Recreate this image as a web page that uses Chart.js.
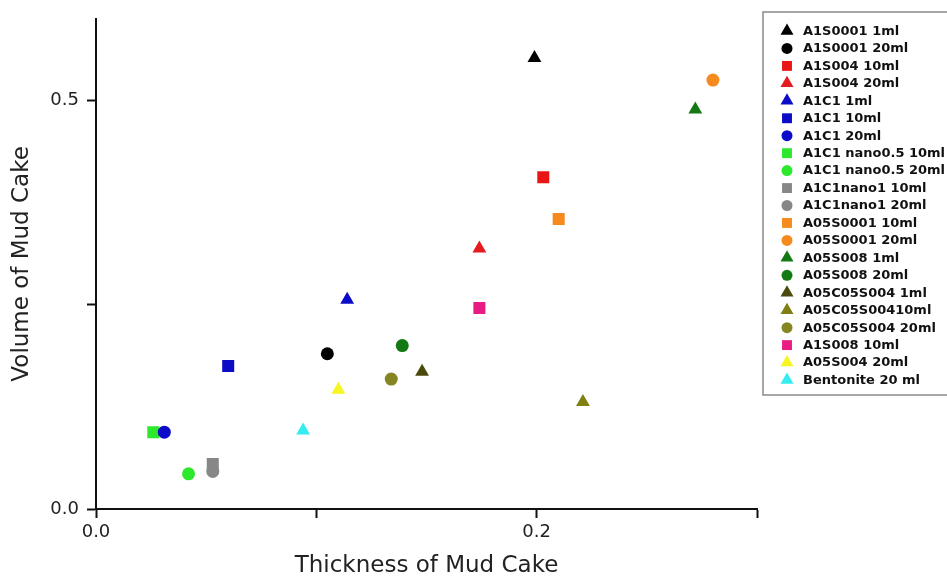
<!DOCTYPE html>
<html>
<head>
<meta charset="utf-8">
<script src="https://cdn.jsdelivr.net/npm/chart.js@4.4.0/dist/chart.umd.min.js"></script>
<style>
  html, body { margin: 0; padding: 0; background: #ffffff; }
  #wrap { width: 947px; height: 580px; }
</style>
</head>
<body>
<div id="wrap"><canvas id="c" width="947" height="580"></canvas></div>
<script>
// ---- data ----
const seriesNames = [
  'A1S0001 1ml', 'A1S0001 20ml', 'A1S004 10ml', 'A1S004 20ml',
  'A1C1 1ml', 'A1C1 10ml', 'A1C1 20ml',
  'A1C1 nano0.5 10ml', 'A1C1 nano0.5 20ml',
  'A1C1nano1 10ml', 'A1C1nano1 20ml',
  'A05S0001 10ml', 'A05S0001 20ml',
  'A05S008 1ml', 'A05S008 20ml',
  'A05C05S004 1ml', 'A05C05S00410ml', 'A05C05S004 20ml',
  'A1S008 10ml', 'A05S004 20ml', 'Bentonite 20 ml'
];
const thicknessValues = [
  0.199, 0.105, 0.203, 0.174,
  0.114, 0.060, 0.031,
  0.026, 0.042,
  0.053, 0.053,
  0.210, 0.280,
  0.272, 0.139,
  0.148, 0.221, 0.134,
  0.174, 0.110, 0.094
];
const volumeValues = [
  0.552, 0.190, 0.406, 0.319,
  0.256, 0.175, 0.094,
  0.094, 0.043,
  0.055, 0.046,
  0.355, 0.525,
  0.489, 0.200,
  0.168, 0.131, 0.159,
  0.246, 0.146, 0.096
];
const xTickLabels = { '0': '0.0', '0.2': '0.2' };
const yTickLabels = { '0': '0.0', '0.5': '0.5' };

// ---- styles (kept apart from data) ----
const markerShapes = [
  'triangle', 'circle', 'rect', 'triangle',
  'triangle', 'rect', 'circle',
  'rect', 'circle',
  'rect', 'circle',
  'rect', 'circle',
  'triangle', 'circle',
  'triangle', 'triangle', 'circle',
  'rect', 'triangle', 'triangle'
];
const markerColors = [
  '#000000', '#000000', '#ea1515', '#e41b1f',
  '#0c0cc8', '#0c0cc8', '#0c0cc8',
  '#2ee82e', '#2ee82e',
  '#878787', '#878787',
  '#f58a1f', '#f58a1f',
  '#137a13', '#137a13',
  '#4a4a0c', '#7f7f12', '#858522',
  '#e91c84', '#f6f624', '#35ecf0'
];
const plotRadius = { triangle: 8, rect: 8.5, circle: 6.5 };
const legendRadius = { triangle: 7.5, rect: 7, circle: 5.5 };

const datasets = seriesNames.map((name, i) => ({
  label: name,
  data: [{ x: thicknessValues[i], y: volumeValues[i] }],
  pointStyle: markerShapes[i],
  pointRadius: plotRadius[markerShapes[i]],
  pointHoverRadius: plotRadius[markerShapes[i]],
  backgroundColor: markerColors[i],
  borderColor: markerColors[i],
  borderWidth: 0
}));

function drawMarker(ctx, shape, r, x, y, color) {
  ctx.save();
  ctx.fillStyle = color;
  ctx.beginPath();
  if (shape === 'circle') {
    ctx.arc(x, y, r, 0, Math.PI * 2);
  } else if (shape === 'rect') {
    const s = Math.SQRT1_2 * r;
    ctx.rect(x - s, y - s, 2 * s, 2 * s);
  } else {
    let rad = 0;
    ctx.moveTo(x + Math.sin(rad) * r, y - Math.cos(rad) * r);
    rad += 2 * Math.PI / 3;
    ctx.lineTo(x + Math.sin(rad) * r, y - Math.cos(rad) * r);
    rad += 2 * Math.PI / 3;
    ctx.lineTo(x + Math.sin(rad) * r, y - Math.cos(rad) * r);
    ctx.closePath();
  }
  ctx.fill();
  ctx.restore();
}

const boxedLegend = {
  id: 'boxedLegend',
  afterDraw(chart) {
    const ctx = chart.ctx;
    ctx.save();
    ctx.strokeStyle = '#8a8a8a';
    ctx.lineWidth = 1.5;
    ctx.strokeRect(763, 12, 190, 383);
    ctx.font = 'bold 13px "DejaVu Sans"';
    ctx.textBaseline = 'middle';
    ctx.textAlign = 'left';
    ctx.fillStyle = '#111111';
    const y0 = 31, step = 17.45;
    chart.data.datasets.forEach((ds, i) => {
      const y = y0 + i * step;
      drawMarker(ctx, ds.pointStyle, legendRadius[ds.pointStyle], 787, y, ds.backgroundColor);
      ctx.fillStyle = '#111111';
      ctx.fillText(ds.label, 803, y + 0.5);
    });
    ctx.restore();
  }
};

new Chart(document.getElementById('c'), {
  type: 'scatter',
  data: { datasets },
  plugins: [boxedLegend],
  options: {
    responsive: false,
    animation: false,
    layout: { padding: { left: 0, top: 16, right: 190, bottom: 0 } },
    plugins: { legend: { display: false }, tooltip: { enabled: false } },
    scales: {
      x: {
        type: 'linear',
        min: 0, max: 0.3,
        afterFit(s) { s.height = 71; },
        ticks: {
          stepSize: 0.1,
          includeBounds: false,
          autoSkip: false,
          maxRotation: 0,
          padding: 4,
          color: '#222222',
          font: { family: '"DejaVu Sans"', size: 18 },
          callback(v) { const k = String(Math.round(v * 10) / 10); return xTickLabels[k] !== undefined ? xTickLabels[k] : ''; }
        },
        grid: { drawOnChartArea: false, drawTicks: true, tickLength: 9, tickWidth: 2, tickColor: '#111111' },
        border: { display: true, color: '#111111', width: 2 },
        title: {
          display: true,
          text: 'Thickness of Mud Cake',
          color: '#222222',
          font: { family: '"DejaVu Sans"', size: 23 },
          padding: { top: 0, bottom: 0 }
        }
      },
      y: {
        type: 'linear',
        min: 0, max: 0.6,
        afterFit(s) { s.width = 96; },
        ticks: {
          stepSize: 0.25,
          includeBounds: false,
          autoSkip: false,
          padding: 8,
          color: '#222222',
          font: { family: '"DejaVu Sans"', size: 18 },
          callback(v) { const k = String(Math.round(v * 100) / 100); return yTickLabels[k] !== undefined ? yTickLabels[k] : ''; }
        },
        grid: { drawOnChartArea: false, drawTicks: true, tickLength: 9, tickWidth: 2, tickColor: '#111111' },
        border: { display: true, color: '#111111', width: 2 },
        title: {
          display: true,
          text: 'Volume of Mud Cake',
          color: '#222222',
          font: { family: '"DejaVu Sans"', size: 23 },
          padding: { top: 8, bottom: 0 }
        }
      }
    }
  }
});
</script>
</body>
</html>
